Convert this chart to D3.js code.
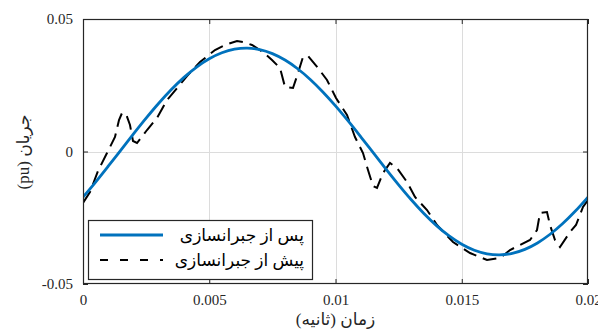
<!DOCTYPE html>
<html><head><meta charset="utf-8">
<script src="https://cdn.jsdelivr.net/npm/d3@7"></script>
<style>
html,body{margin:0;padding:0;background:#fff;}
svg{display:block;}
</style></head>
<body>
<svg id="chart" width="598" height="329"></svg>
<script>
// ---- data ----
const xTicks = [0, 0.005, 0.01, 0.015, 0.02];
const xTickLabels = ["0", "0.005", "0.01", "0.015", "0.02"];
const yTicks = [-0.05, 0, 0.05];
const yTickLabels = ["-0.05", "0", "0.05"];

// after compensation (blue), sampled every 0.0005 s
const afterT = [0,0.0005,0.001,0.0015,0.002,0.0025,0.003,0.0035,0.004,0.0045,0.005,0.0055,0.006,0.0065,0.007,0.0075,0.008,0.0085,0.009,0.0095,0.01,0.0105,0.011,0.0115,0.012,0.0125,0.013,0.0135,0.014,0.0145,0.015,0.0155,0.016,0.0165,0.017,0.0175,0.018,0.0185,0.019,0.0195,0.02];
const afterV = [-0.01722,-0.01153,-0.00556,0.00054,0.00664,0.01257,0.01819,0.02336,0.02796,0.03187,0.03499,0.03726,0.03860,0.03900,0.03843,0.03692,0.03450,0.03123,0.02719,0.02248,0.01722,0.01153,0.00556,-0.00054,-0.00664,-0.01257,-0.01819,-0.02336,-0.02796,-0.03187,-0.03499,-0.03726,-0.03860,-0.03900,-0.03843,-0.03692,-0.03450,-0.03123,-0.02719,-0.02248,-0.01722];

// before compensation (black dashed)
const beforeT = [0,0.000277,0.000594,0.00095,0.001267,0.001426,0.001545,0.001703,0.001861,0.00198,0.002139,0.002535,0.002931,0.003327,0.003762,0.004119,0.004634,0.005228,0.005624,0.006099,0.006337,0.006693,0.007129,0.007485,0.007802,0.008,0.008317,0.008515,0.008713,0.008911,0.009307,0.009663,0.01002,0.010455,0.010772,0.011089,0.011287,0.011485,0.011644,0.011881,0.012158,0.012436,0.012832,0.013149,0.013624,0.01402,0.014653,0.015327,0.016,0.016515,0.016911,0.017307,0.017703,0.01798,0.018099,0.018376,0.018495,0.018693,0.018891,0.019287,0.019525,0.019802,0.02];
const beforeV = [-0.0194,-0.0153,-0.00736,-0.00057,0.00547,0.01189,0.01453,0.01415,0.01,0.00396,0.00321,0.00811,0.01264,0.01943,0.02434,0.02849,0.03377,0.0383,0.04019,0.0417,0.04132,0.04019,0.03755,0.03453,0.03151,0.02434,0.02396,0.02962,0.03566,0.03604,0.03151,0.02698,0.02019,0.01377,0.00547,-0.00057,-0.00698,-0.01302,-0.01377,-0.00811,-0.00434,-0.00623,-0.01151,-0.01717,-0.02208,-0.02774,-0.03415,-0.0383,-0.04094,-0.04019,-0.03717,-0.03528,-0.0334,-0.02962,-0.02321,-0.02283,-0.02774,-0.0334,-0.03604,-0.03038,-0.02774,-0.02094,-0.0183];

const legendLabels = ["پس از جبرانسازی", "پیش از جبرانسازی"];
const xLabel = "زمان (ثانیه)";
const yLabel = "جریان (pu)";

// ---- layout ----
const L = 83, R = 588, T = 19, B = 284;
const svg = d3.select("#chart");
const x = d3.scaleLinear().domain([0, 0.02]).range([L, R]);
const y = d3.scaleLinear().domain([-0.05, 0.05]).range([B, T]);

const serif = "'Liberation Serif','Times New Roman',serif";
const arab = "'Liberation Serif','DejaVu Sans',sans-serif";

// grid
svg.append("g").selectAll("line.gx").data(xTicks.slice(1, -1)).join("line")
  .attr("x1", d => Math.round(x(d)) + 0.5).attr("x2", d => Math.round(x(d)) + 0.5)
  .attr("y1", T).attr("y2", B).attr("stroke", "#dcdcdc").attr("stroke-width", 1);
svg.append("g").selectAll("line.gy").data(yTicks.slice(1, -1)).join("line")
  .attr("y1", d => Math.round(y(d)) + 0.5).attr("y2", d => Math.round(y(d)) + 0.5)
  .attr("x1", L).attr("x2", R).attr("stroke", "#dcdcdc").attr("stroke-width", 1);

// clip
svg.append("clipPath").attr("id", "clip").append("rect")
  .attr("x", L).attr("y", T).attr("width", R - L).attr("height", B - T);

const lineGen = d3.line().x(d => x(d[0])).y(d => y(d[1]));
const afterData = afterT.map((t, i) => [t, afterV[i]]);
const beforeData = beforeT.map((t, i) => [t, beforeV[i]]);

const plot = svg.append("g").attr("clip-path", "url(#clip)");
plot.append("path").datum(beforeData)
  .attr("d", lineGen.curve(d3.curveLinear))
  .attr("fill", "none").attr("stroke", "#000").attr("stroke-width", 2)
  .attr("stroke-dasharray", "14,7");
plot.append("path").datum(afterData)
  .attr("d", d3.line().x(d => x(d[0])).y(d => y(d[1])).curve(d3.curveCatmullRom)(afterData))
  .attr("fill", "none").attr("stroke", "#0072BD").attr("stroke-width", 2.8);

// axes (box with inward ticks)
const xAxisB = d3.axisBottom(x).tickValues(xTicks).tickSize(-5).tickFormat((d, i) => xTickLabels[i]).tickPadding(10);
const xAxisT = d3.axisTop(x).tickValues(xTicks).tickSize(-5).tickFormat("");
const yAxisL = d3.axisLeft(y).tickValues(yTicks).tickSize(-5).tickFormat((d, i) => yTickLabels[i]).tickPadding(10);
const yAxisR = d3.axisRight(y).tickValues(yTicks).tickSize(-5).tickFormat("");

function style(g) {
  g.select(".domain").remove();
  g.selectAll("line").attr("stroke", "#262626");
  g.selectAll("text").attr("font-family", serif).attr("font-size", 15).attr("fill", "#262626");
}
svg.append("g").attr("transform", `translate(0,${B})`).call(xAxisB).call(style);
svg.append("g").attr("transform", `translate(0,${T})`).call(xAxisT).call(style);
svg.append("g").attr("transform", `translate(${L},0)`).call(yAxisL).call(style);
svg.append("g").attr("transform", `translate(${R},0)`).call(yAxisR).call(style);

svg.append("rect").attr("x", L + 0.5).attr("y", T + 0.5).attr("width", R - L - 1).attr("height", B - T - 1)
  .attr("fill", "none").attr("stroke", "#262626").attr("stroke-width", 1.2);

// labels
svg.append("text").attr("x", (L + R) / 2).attr("y", 325).attr("text-anchor", "middle")
  .attr("font-family", arab).attr("font-size", 17).attr("fill", "#262626").attr("direction", "rtl")
  .text(xLabel);
svg.append("text").attr("transform", `translate(29,152) rotate(-90)`).attr("text-anchor", "middle")
  .attr("font-family", arab).attr("font-size", 17).attr("fill", "#262626").attr("direction", "rtl")
  .text(yLabel);

// legend
const lg = svg.append("g");
lg.append("rect").attr("x", 88.5).attr("y", 220.5).attr("width", 224).attr("height", 59)
  .attr("fill", "#fff").attr("stroke", "#262626").attr("stroke-width", 1.2);
const legendStyles = [
  {stroke: "#0072BD", w: 2.8, dash: null},
  {stroke: "#000", w: 1.8, dash: "8,12"}
];
legendLabels.forEach((lab, i) => {
  const yy = 235 + i * 25;
  lg.append("line").attr("x1", 100).attr("x2", 163).attr("y1", yy).attr("y2", yy)
    .attr("stroke", legendStyles[i].stroke).attr("stroke-width", legendStyles[i].w)
    .attr("stroke-dasharray", legendStyles[i].dash);
  lg.append("text").attr("x", 304).attr("y", yy).attr("dy", "0.35em")
    .attr("text-anchor", "start").attr("direction", "rtl")
    .attr("font-family", arab).attr("font-size", 17).attr("fill", "#000").text(lab);
});
</script>
</body></html>
